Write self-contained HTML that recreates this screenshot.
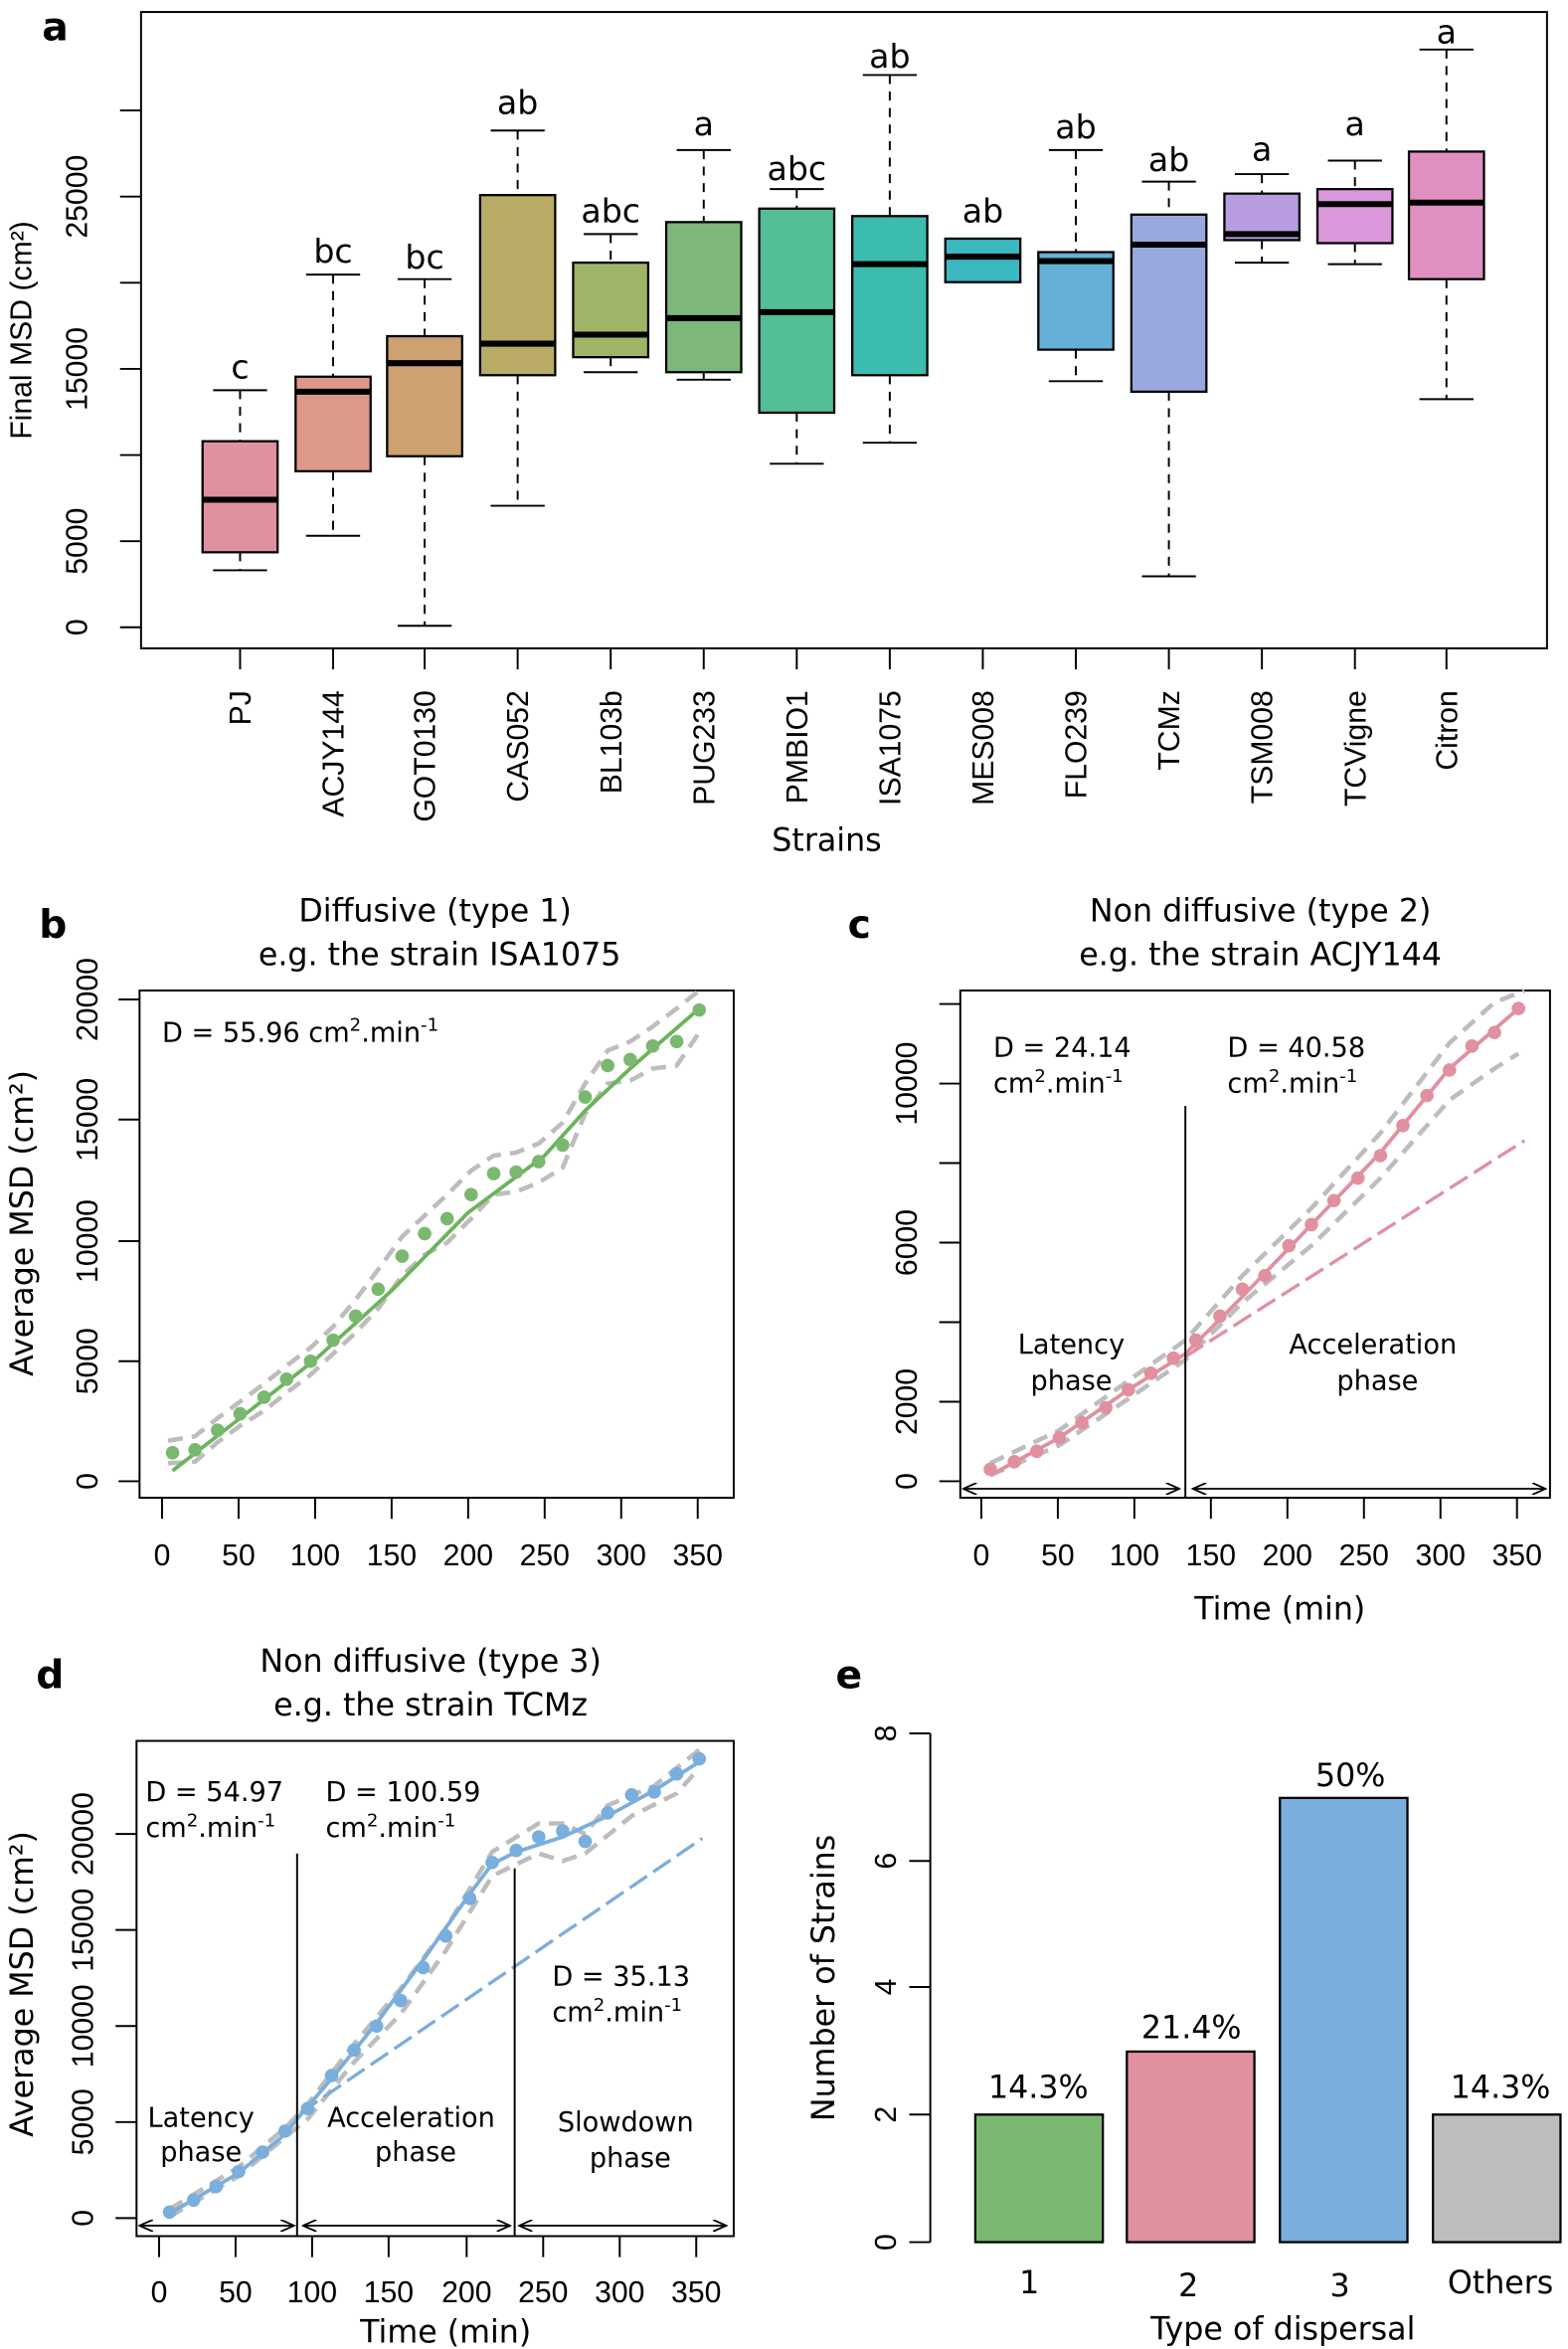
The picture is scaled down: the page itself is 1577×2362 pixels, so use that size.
<!DOCTYPE html>
<html><head><meta charset="utf-8"><style>
html,body{margin:0;padding:0;background:#fff}
svg{display:block}
.t{font-family:"Liberation Sans",Arial,sans-serif;font-size:20px;fill:#000}
.v{font-family:"DejaVu Sans",Verdana,sans-serif;fill:#000}
.bx rect{stroke:#000;stroke-width:1.5}
.md{stroke:#000;stroke-width:4}
.wk{stroke:#000;stroke-width:1.3;stroke-dasharray:6,5}
.cp{stroke:#000;stroke-width:1.3}
.ax{stroke:#000;stroke-width:1.3;fill:none}
.gd{stroke:#bdbdbd;stroke-width:3;stroke-dasharray:10,6;fill:none}
</style></head><body>
<svg width="1577" height="2362" viewBox="0 0 1045 1565.2" preserveAspectRatio="none" xmlns="http://www.w3.org/2000/svg">
<defs>
<marker id="ar" markerWidth="10" markerHeight="8" refX="9" refY="4" orient="auto-start-reverse" markerUnits="userSpaceOnUse"><path d="M0,0 L9,4 L0,8" fill="none" stroke="#000" stroke-width="1.2"/></marker>
</defs>
<!-- Panel a -->
<text x="28" y="27" class="v" font-size="26" font-weight="bold">a</text>
<rect x="94" y="8" width="937" height="424" class="ax" stroke-width="1.6"/>
<g class="ax">
<line x1="94" y1="418" x2="80" y2="418"/><line x1="94" y1="360.6" x2="80" y2="360.6"/><line x1="94" y1="303.2" x2="80" y2="303.2"/><line x1="94" y1="245.8" x2="80" y2="245.8"/><line x1="94" y1="188.4" x2="80" y2="188.4"/><line x1="94" y1="131" x2="80" y2="131"/><line x1="94" y1="73.6" x2="80" y2="73.6"/>
</g>
<g class="t">
<text transform="translate(58,418) rotate(-90)" text-anchor="middle">0</text>
<text transform="translate(58,360.6) rotate(-90)" text-anchor="middle">5000</text>
<text transform="translate(58,245.8) rotate(-90)" text-anchor="middle">15000</text>
<text transform="translate(58,131) rotate(-90)" text-anchor="middle">25000</text>
</g>
<text transform="translate(21,220) rotate(-90)" class="t" font-size="23" text-anchor="middle">Final MSD (cm²)</text>

<g id="boxes">
<line x1="160" y1="260" x2="160" y2="294" class="wk"/><line x1="160" y1="368" x2="160" y2="380" class="wk"/><line x1="142" y1="260" x2="178" y2="260" class="cp"/><line x1="142" y1="380" x2="178" y2="380" class="cp"/><g class="bx"><rect x="135" y="294" width="50" height="74" fill="#e0919f"/></g><line x1="135" y1="333" x2="185" y2="333" class="md"/>
<line x1="222" y1="183" x2="222" y2="251" class="wk"/><line x1="222" y1="314" x2="222" y2="357" class="wk"/><line x1="204" y1="183" x2="240" y2="183" class="cp"/><line x1="204" y1="357" x2="240" y2="357" class="cp"/><g class="bx"><rect x="197" y="251" width="50" height="63" fill="#dc9888"/></g><line x1="197" y1="261" x2="247" y2="261" class="md"/>
<line x1="283" y1="186" x2="283" y2="224" class="wk"/><line x1="283" y1="304" x2="283" y2="417" class="wk"/><line x1="265" y1="186" x2="301" y2="186" class="cp"/><line x1="265" y1="417" x2="301" y2="417" class="cp"/><g class="bx"><rect x="258" y="224" width="50" height="80" fill="#cda170"/></g><line x1="258" y1="242" x2="308" y2="242" class="md"/>
<line x1="345" y1="87" x2="345" y2="130" class="wk"/><line x1="345" y1="250" x2="345" y2="337" class="wk"/><line x1="327" y1="87" x2="363" y2="87" class="cp"/><line x1="327" y1="337" x2="363" y2="337" class="cp"/><g class="bx"><rect x="320" y="130" width="50" height="120" fill="#b8ab67"/></g><line x1="320" y1="229" x2="370" y2="229" class="md"/>
<line x1="407" y1="156" x2="407" y2="175" class="wk"/><line x1="407" y1="238" x2="407" y2="248" class="wk"/><line x1="389" y1="156" x2="425" y2="156" class="cp"/><line x1="389" y1="248" x2="425" y2="248" class="cp"/><g class="bx"><rect x="382" y="175" width="50" height="63" fill="#a0b468"/></g><line x1="382" y1="223" x2="432" y2="223" class="md"/>
<line x1="469" y1="100" x2="469" y2="148" class="wk"/><line x1="469" y1="248" x2="469" y2="253" class="wk"/><line x1="451" y1="100" x2="487" y2="100" class="cp"/><line x1="451" y1="253" x2="487" y2="253" class="cp"/><g class="bx"><rect x="444" y="148" width="50" height="100" fill="#7db87a"/></g><line x1="444" y1="212" x2="494" y2="212" class="md"/>
<line x1="531" y1="126" x2="531" y2="139" class="wk"/><line x1="531" y1="275" x2="531" y2="309" class="wk"/><line x1="513" y1="126" x2="549" y2="126" class="cp"/><line x1="513" y1="309" x2="549" y2="309" class="cp"/><g class="bx"><rect x="506" y="139" width="50" height="136" fill="#52be95"/></g><line x1="506" y1="208" x2="556" y2="208" class="md"/>
<line x1="593" y1="50" x2="593" y2="144" class="wk"/><line x1="593" y1="250" x2="593" y2="295" class="wk"/><line x1="575" y1="50" x2="611" y2="50" class="cp"/><line x1="575" y1="295" x2="611" y2="295" class="cp"/><g class="bx"><rect x="568" y="144" width="50" height="106" fill="#3bbcae"/></g><line x1="568" y1="176" x2="618" y2="176" class="md"/>
<g class="bx"><rect x="630" y="159" width="50" height="29" fill="#3bb8c2"/></g><line x1="630" y1="171" x2="680" y2="171" class="md"/>
<line x1="717" y1="100" x2="717" y2="168" class="wk"/><line x1="717" y1="233" x2="717" y2="254" class="wk"/><line x1="699" y1="100" x2="735" y2="100" class="cp"/><line x1="699" y1="254" x2="735" y2="254" class="cp"/><g class="bx"><rect x="692" y="168" width="50" height="65" fill="#66b0d8"/></g><line x1="692" y1="174" x2="742" y2="174" class="md"/>
<line x1="779" y1="121" x2="779" y2="143" class="wk"/><line x1="779" y1="261" x2="779" y2="384" class="wk"/><line x1="761" y1="121" x2="797" y2="121" class="cp"/><line x1="761" y1="384" x2="797" y2="384" class="cp"/><g class="bx"><rect x="754" y="143" width="50" height="118" fill="#9aa8e0"/></g><line x1="754" y1="163" x2="804" y2="163" class="md"/>
<line x1="841" y1="116" x2="841" y2="129" class="wk"/><line x1="841" y1="160" x2="841" y2="175" class="wk"/><line x1="823" y1="116" x2="859" y2="116" class="cp"/><line x1="823" y1="175" x2="859" y2="175" class="cp"/><g class="bx"><rect x="816" y="129" width="50" height="31" fill="#b79ce0"/></g><line x1="816" y1="156" x2="866" y2="156" class="md"/>
<line x1="903" y1="107" x2="903" y2="126" class="wk"/><line x1="903" y1="162" x2="903" y2="176" class="wk"/><line x1="885" y1="107" x2="921" y2="107" class="cp"/><line x1="885" y1="176" x2="921" y2="176" class="cp"/><g class="bx"><rect x="878" y="126" width="50" height="36" fill="#dc98dc"/></g><line x1="878" y1="136" x2="928" y2="136" class="md"/>
<line x1="964" y1="33" x2="964" y2="101" class="wk"/><line x1="964" y1="186" x2="964" y2="266" class="wk"/><line x1="946" y1="33" x2="982" y2="33" class="cp"/><line x1="946" y1="266" x2="982" y2="266" class="cp"/><g class="bx"><rect x="939" y="101" width="50" height="85" fill="#e090c0"/></g><line x1="939" y1="135" x2="989" y2="135" class="md"/>
</g>
<g class="v" font-size="22" text-anchor="middle">
<text x="160" y="252">c</text><text x="222" y="175">bc</text><text x="283" y="179">bc</text><text x="345" y="76">ab</text><text x="407" y="148">abc</text><text x="469" y="90">a</text><text x="531" y="120">abc</text><text x="593" y="45">ab</text><text x="655" y="148">ab</text><text x="717" y="92">ab</text><text x="779" y="114">ab</text><text x="841" y="107">a</text><text x="903" y="90">a</text><text x="964" y="29">a</text>
</g>
<g class="ax">
<line x1="160" y1="432" x2="160" y2="446"/><line x1="222" y1="432" x2="222" y2="446"/><line x1="283" y1="432" x2="283" y2="446"/><line x1="345" y1="432" x2="345" y2="446"/><line x1="407" y1="432" x2="407" y2="446"/><line x1="469" y1="432" x2="469" y2="446"/><line x1="531" y1="432" x2="531" y2="446"/><line x1="593" y1="432" x2="593" y2="446"/><line x1="655" y1="432" x2="655" y2="446"/><line x1="717" y1="432" x2="717" y2="446"/><line x1="779" y1="432" x2="779" y2="446"/><line x1="841" y1="432" x2="841" y2="446"/><line x1="903" y1="432" x2="903" y2="446"/><line x1="964" y1="432" x2="964" y2="446"/>
</g>
<g class="t" text-anchor="end" font-size="21">
<text transform="translate(167,460) rotate(-90)">PJ</text>
<text transform="translate(229,460) rotate(-90)">ACJY144</text>
<text transform="translate(290,460) rotate(-90)">GOT0130</text>
<text transform="translate(352,460) rotate(-90)">CAS052</text>
<text transform="translate(414,460) rotate(-90)">BL103b</text>
<text transform="translate(476,460) rotate(-90)">PUG233</text>
<text transform="translate(538,460) rotate(-90)">PMBIO1</text>
<text transform="translate(600,460) rotate(-90)">ISA1075</text>
<text transform="translate(662,460) rotate(-90)">MES008</text>
<text transform="translate(724,460) rotate(-90)">FLO239</text>
<text transform="translate(786,460) rotate(-90)">TCMz</text>
<text transform="translate(848,460) rotate(-90)">TSM008</text>
<text transform="translate(910,460) rotate(-90)">TCVigne</text>
<text transform="translate(971,460) rotate(-90)">Citron</text>
</g>
<text x="551" y="567" class="v" font-size="21" text-anchor="middle">Strains</text>

<!-- Panel b -->
<text x="26" y="625" class="v" font-size="26" font-weight="bold">b</text>
<text x="290" y="614" class="v" font-size="21" text-anchor="middle">Diffusive (type 1)</text>
<text x="293" y="643" class="v" font-size="21" text-anchor="middle">e.g. the strain ISA1075</text>
<rect x="93" y="660" width="396" height="338" class="ax" stroke-width="1.5"/>
<g class="ax">
<line x1="108" y1="998" x2="108" y2="1012"/><line x1="159" y1="998" x2="159" y2="1012"/><line x1="210" y1="998" x2="210" y2="1012"/><line x1="261" y1="998" x2="261" y2="1012"/><line x1="312" y1="998" x2="312" y2="1012"/><line x1="363" y1="998" x2="363" y2="1012"/><line x1="414" y1="998" x2="414" y2="1012"/><line x1="465" y1="998" x2="465" y2="1012"/>
<line x1="93" y1="987" x2="79" y2="987"/><line x1="93" y1="907" x2="79" y2="907"/><line x1="93" y1="827" x2="79" y2="827"/><line x1="93" y1="746" x2="79" y2="746"/><line x1="93" y1="666" x2="79" y2="666"/>
</g>
<g class="t" text-anchor="middle">
<text x="108" y="1043">0</text><text x="159" y="1043">50</text><text x="210" y="1043">100</text><text x="261" y="1043">150</text><text x="312" y="1043">200</text><text x="363" y="1043">250</text><text x="414" y="1043">300</text><text x="465" y="1043">350</text>
<text transform="translate(65,987) rotate(-90)">0</text><text transform="translate(65,907) rotate(-90)">5000</text><text transform="translate(65,827) rotate(-90)">10000</text><text transform="translate(65,746) rotate(-90)">15000</text><text transform="translate(65,666) rotate(-90)">20000</text>
</g>
<text transform="translate(22,815) rotate(-90)" class="v" font-size="21" text-anchor="middle">Average MSD (cm²)</text>
<polyline class="gd" points="112,960 130,957 145,945 160,934 176,922 191,910 207,898 222,884 237,866 252,846 268,824 283,810 298,796 314,780 329,770 344,768 359,762 375,748 390,722 405,700 420,694 435,684 451,672 466,660"/>
<polyline class="gd" points="112,975 130,974 145,961 160,950 176,940 191,928 207,916 222,902 237,888 252,872 268,850 283,836 298,828 314,812 329,796 344,794 359,788 375,778 390,742 405,722 420,720 435,712 451,710 466,688"/>
<polyline fill="none" stroke="#6cb35c" stroke-width="2.5" points="115,980 160,945 210,906 261,860 312,808 363,770 390,740 420,712 466,672"/>
<g fill="#7ab870">
<circle cx="115" cy="968" r="4.5"/><circle cx="130" cy="966" r="4.5"/><circle cx="145" cy="953" r="4.5"/><circle cx="160" cy="942" r="4.5"/><circle cx="176" cy="931" r="4.5"/><circle cx="191" cy="919" r="4.5"/><circle cx="207" cy="907" r="4.5"/><circle cx="222" cy="893" r="4.5"/><circle cx="237" cy="877" r="4.5"/><circle cx="252" cy="859" r="4.5"/><circle cx="268" cy="837" r="4.5"/><circle cx="283" cy="822" r="4.5"/><circle cx="298" cy="812" r="4.5"/><circle cx="314" cy="796" r="4.5"/><circle cx="329" cy="782" r="4.5"/><circle cx="344" cy="781" r="4.5"/><circle cx="359" cy="774" r="4.5"/><circle cx="375" cy="763" r="4.5"/><circle cx="390" cy="731" r="4.5"/><circle cx="405" cy="710" r="4.5"/><circle cx="420" cy="706" r="4.5"/><circle cx="435" cy="697" r="4.5"/><circle cx="451" cy="694" r="4.5"/><circle cx="466" cy="673" r="4.5"/>
</g>
<text x="108" y="694" class="v" font-size="18">D = 55.96 cm<tspan font-size="12" dy="-7">2</tspan><tspan dy="7">.min</tspan><tspan font-size="12" dy="-7">-1</tspan></text>

<!-- Panel c -->
<text x="565" y="625" class="v" font-size="26" font-weight="bold">c</text>
<text x="840" y="614" class="v" font-size="21" text-anchor="middle">Non diffusive (type 2)</text>
<text x="840" y="643" class="v" font-size="21" text-anchor="middle">e.g. the strain ACJY144</text>
<rect x="640" y="660" width="393" height="338" class="ax" stroke-width="1.5"/>
<g class="ax">
<line x1="654" y1="998" x2="654" y2="1012"/><line x1="705" y1="998" x2="705" y2="1012"/><line x1="756" y1="998" x2="756" y2="1012"/><line x1="807" y1="998" x2="807" y2="1012"/><line x1="858" y1="998" x2="858" y2="1012"/><line x1="909" y1="998" x2="909" y2="1012"/><line x1="960" y1="998" x2="960" y2="1012"/><line x1="1011" y1="998" x2="1011" y2="1012"/>
<line x1="640" y1="987" x2="626" y2="987"/><line x1="640" y1="934" x2="626" y2="934"/><line x1="640" y1="881" x2="626" y2="881"/><line x1="640" y1="828" x2="626" y2="828"/><line x1="640" y1="775" x2="626" y2="775"/><line x1="640" y1="722" x2="626" y2="722"/><line x1="640" y1="669" x2="626" y2="669"/>
</g>
<g class="t" text-anchor="middle">
<text x="654" y="1043">0</text><text x="705" y="1043">50</text><text x="756" y="1043">100</text><text x="807" y="1043">150</text><text x="858" y="1043">200</text><text x="909" y="1043">250</text><text x="960" y="1043">300</text><text x="1011" y="1043">350</text>
<text transform="translate(611,987) rotate(-90)">0</text><text transform="translate(611,934) rotate(-90)">2000</text><text transform="translate(611,828) rotate(-90)">6000</text><text transform="translate(611,722) rotate(-90)">10000</text>
</g>
<text x="853" y="1079" class="v" font-size="21" text-anchor="middle">Time (min)</text>
<polyline class="gd" points="660,975 706,953 752,920 790,893 828,850 874,805 920,755 966,695 996,668 1016,660"/>
<polyline class="gd" points="660,983 706,963 752,932 790,906 828,868 874,830 920,785 966,733 996,712 1012,702"/>
<line x1="790" y1="904" x2="1016" y2="760" stroke="#e0909f" stroke-width="2.2" stroke-dasharray="14,5"/>
<polyline fill="none" stroke="#e0909f" stroke-width="2.5" points="660,983 706,958 752,926 790,902 828,864 874,816 920,768 966,712 1012,672"/>
<g fill="#e0909f">
<circle cx="660" cy="979" r="4.5"/><circle cx="676" cy="974" r="4.5"/><circle cx="691" cy="967" r="4.5"/><circle cx="706" cy="958" r="4.5"/><circle cx="721" cy="948" r="4.5"/><circle cx="737" cy="938" r="4.5"/><circle cx="752" cy="926" r="4.5"/><circle cx="767" cy="915" r="4.5"/><circle cx="782" cy="905" r="4.5"/><circle cx="797" cy="893" r="4.5"/><circle cx="813" cy="877" r="4.5"/><circle cx="828" cy="859" r="4.5"/><circle cx="843" cy="850" r="4.5"/><circle cx="859" cy="830" r="4.5"/><circle cx="874" cy="816" r="4.5"/><circle cx="889" cy="800" r="4.5"/><circle cx="905" cy="785" r="4.5"/><circle cx="920" cy="770" r="4.5"/><circle cx="935" cy="750" r="4.5"/><circle cx="951" cy="730" r="4.5"/><circle cx="966" cy="713" r="4.5"/><circle cx="981" cy="697" r="4.5"/><circle cx="996" cy="688" r="4.5"/><circle cx="1012" cy="672" r="4.5"/>
</g>
<line x1="790" y1="737" x2="790" y2="998" stroke="#000" stroke-width="1.3"/>
<line x1="642" y1="992" x2="786" y2="992" stroke="#000" stroke-width="1.2" marker-start="url(#ar)" marker-end="url(#ar)"/>
<line x1="795" y1="992" x2="1030" y2="992" stroke="#000" stroke-width="1.2" marker-start="url(#ar)" marker-end="url(#ar)"/>
<g class="v" font-size="18">
<text x="662" y="704">D = 24.14</text>
<text x="662" y="728">cm<tspan font-size="12" dy="-7">2</tspan><tspan dy="7">.min</tspan><tspan font-size="12" dy="-7">-1</tspan></text>
<text x="818" y="704">D = 40.58</text>
<text x="818" y="728">cm<tspan font-size="12" dy="-7">2</tspan><tspan dy="7">.min</tspan><tspan font-size="12" dy="-7">-1</tspan></text>
<text x="714" y="902" text-anchor="middle">Latency</text><text x="714" y="926" text-anchor="middle">phase</text>
<text x="915" y="902" text-anchor="middle">Acceleration</text><text x="918" y="926" text-anchor="middle">phase</text>
</g>

<!-- Panel d -->
<text x="24" y="1125" class="v" font-size="26" font-weight="bold">d</text>
<text x="287" y="1114" class="v" font-size="21" text-anchor="middle">Non diffusive (type 3)</text>
<text x="287" y="1143" class="v" font-size="21" text-anchor="middle">e.g. the strain TCMz</text>
<rect x="91" y="1160" width="398" height="330" class="ax" stroke-width="1.5"/>
<g class="ax">
<line x1="106" y1="1490" x2="106" y2="1504"/><line x1="157" y1="1490" x2="157" y2="1504"/><line x1="208" y1="1490" x2="208" y2="1504"/><line x1="259" y1="1490" x2="259" y2="1504"/><line x1="311" y1="1490" x2="311" y2="1504"/><line x1="362" y1="1490" x2="362" y2="1504"/><line x1="413" y1="1490" x2="413" y2="1504"/><line x1="464" y1="1490" x2="464" y2="1504"/>
<line x1="91" y1="1478" x2="77" y2="1478"/><line x1="91" y1="1414" x2="77" y2="1414"/><line x1="91" y1="1350" x2="77" y2="1350"/><line x1="91" y1="1286" x2="77" y2="1286"/><line x1="91" y1="1222" x2="77" y2="1222"/>
</g>
<g class="t" text-anchor="middle">
<text x="106" y="1534">0</text><text x="157" y="1534">50</text><text x="208" y="1534">100</text><text x="259" y="1534">150</text><text x="311" y="1534">200</text><text x="362" y="1534">250</text><text x="413" y="1534">300</text><text x="464" y="1534">350</text>
<text transform="translate(62,1478) rotate(-90)">0</text><text transform="translate(62,1414) rotate(-90)">5000</text><text transform="translate(62,1350) rotate(-90)">10000</text><text transform="translate(62,1286) rotate(-90)">15000</text><text transform="translate(62,1222) rotate(-90)">20000</text>
</g>
<text transform="translate(22,1322) rotate(-90)" class="v" font-size="21" text-anchor="middle">Average MSD (cm²)</text>
<text x="297" y="1561" class="v" font-size="21" text-anchor="middle">Time (min)</text>
<polyline class="gd" points="113,1472 159,1444 190,1418 205,1402 236,1362 267,1325 297,1285 328,1234 359,1215 375,1215 390,1222 405,1203 436,1190 466,1166"/>
<polyline class="gd" points="113,1477 159,1450 190,1424 205,1412 236,1374 267,1342 297,1300 328,1250 359,1235 375,1240 390,1235 421,1210 451,1195 466,1178"/>
<line x1="200" y1="1408" x2="468" y2="1225" stroke="#7aaedc" stroke-width="2.2" stroke-dasharray="14,5"/>
<polyline fill="none" stroke="#7aaedc" stroke-width="2.5" points="113,1475 159,1448 190,1422 198,1412 221,1385 251,1348 282,1306 313,1262 328,1242 344,1234 375,1224 405,1210 436,1193 466,1174"/>
<g fill="#7aaedc">
<circle cx="113" cy="1474" r="4.5"/><circle cx="129" cy="1466" r="4.5"/><circle cx="144" cy="1457" r="4.5"/><circle cx="159" cy="1447" r="4.5"/><circle cx="175" cy="1434" r="4.5"/><circle cx="190" cy="1420" r="4.5"/><circle cx="205" cy="1405" r="4.5"/><circle cx="221" cy="1383" r="4.5"/><circle cx="236" cy="1366" r="4.5"/><circle cx="251" cy="1350" r="4.5"/><circle cx="267" cy="1333" r="4.5"/><circle cx="282" cy="1311" r="4.5"/><circle cx="297" cy="1290" r="4.5"/><circle cx="313" cy="1265" r="4.5"/><circle cx="328" cy="1241" r="4.5"/><circle cx="344" cy="1233" r="4.5"/><circle cx="359" cy="1224" r="4.5"/><circle cx="375" cy="1220" r="4.5"/><circle cx="390" cy="1227" r="4.5"/><circle cx="405" cy="1208" r="4.5"/><circle cx="421" cy="1196" r="4.5"/><circle cx="436" cy="1194" r="4.5"/><circle cx="451" cy="1182" r="4.5"/><circle cx="466" cy="1172" r="4.5"/>
</g>
<line x1="198" y1="1235" x2="198" y2="1490" stroke="#000" stroke-width="1.3"/>
<line x1="343" y1="1245" x2="343" y2="1490" stroke="#000" stroke-width="1.3"/>
<line x1="93" y1="1483" x2="196" y2="1483" stroke="#000" stroke-width="1.2" marker-start="url(#ar)" marker-end="url(#ar)"/>
<line x1="202" y1="1483" x2="340" y2="1483" stroke="#000" stroke-width="1.2" marker-start="url(#ar)" marker-end="url(#ar)"/>
<line x1="346" y1="1483" x2="484" y2="1483" stroke="#000" stroke-width="1.2" marker-start="url(#ar)" marker-end="url(#ar)"/>
<g class="v" font-size="18">
<text x="97" y="1200">D = 54.97</text>
<text x="97" y="1224">cm<tspan font-size="12" dy="-7">2</tspan><tspan dy="7">.min</tspan><tspan font-size="12" dy="-7">-1</tspan></text>
<text x="217" y="1200">D = 100.59</text>
<text x="217" y="1224">cm<tspan font-size="12" dy="-7">2</tspan><tspan dy="7">.min</tspan><tspan font-size="12" dy="-7">-1</tspan></text>
<text x="368" y="1323">D = 35.13</text>
<text x="368" y="1347">cm<tspan font-size="12" dy="-7">2</tspan><tspan dy="7">.min</tspan><tspan font-size="12" dy="-7">-1</tspan></text>
<text x="134" y="1417" text-anchor="middle">Latency</text><text x="134" y="1440" text-anchor="middle">phase</text>
<text x="274" y="1417" text-anchor="middle">Acceleration</text><text x="277" y="1440" text-anchor="middle">phase</text>
<text x="417" y="1420" text-anchor="middle">Slowdown</text><text x="420" y="1444" text-anchor="middle">phase</text>
</g>

<!-- Panel e -->
<text x="557" y="1125" class="v" font-size="26" font-weight="bold">e</text>
<g class="ax">
<line x1="620" y1="1155" x2="620" y2="1494"/>
<line x1="620" y1="1494" x2="606" y2="1494"/><line x1="620" y1="1409" x2="606" y2="1409"/><line x1="620" y1="1324" x2="606" y2="1324"/><line x1="620" y1="1240" x2="606" y2="1240"/><line x1="620" y1="1155" x2="606" y2="1155"/>
</g>
<g class="t" text-anchor="middle">
<text transform="translate(597,1494) rotate(-90)">0</text><text transform="translate(597,1409) rotate(-90)">2</text><text transform="translate(597,1324) rotate(-90)">4</text><text transform="translate(597,1240) rotate(-90)">6</text><text transform="translate(597,1155) rotate(-90)">8</text>
</g>
<text transform="translate(556,1318) rotate(-90)" class="v" font-size="21" text-anchor="middle">Number of Strains</text>
<g stroke="#000" stroke-width="1.5">
<rect x="650" y="1409" width="85" height="85" fill="#7ab870"/>
<rect x="751" y="1367" width="85" height="127" fill="#e0909f"/>
<rect x="853" y="1198" width="85" height="296" fill="#7aaedc"/>
<rect x="955" y="1409" width="85" height="85" fill="#bdbdbd"/>
</g>
<g class="v" font-size="21" text-anchor="middle">
<text x="692" y="1398">14.3%</text><text x="794" y="1358">21.4%</text><text x="900" y="1190">50%</text><text x="1000" y="1398">14.3%</text>
<text x="686" y="1528">1</text><text x="792" y="1530">2</text><text x="893" y="1530">3</text><text x="1000" y="1528">Others</text>
<text x="855" y="1559">Type of dispersal</text>
</g>
</svg>
</body></html>
